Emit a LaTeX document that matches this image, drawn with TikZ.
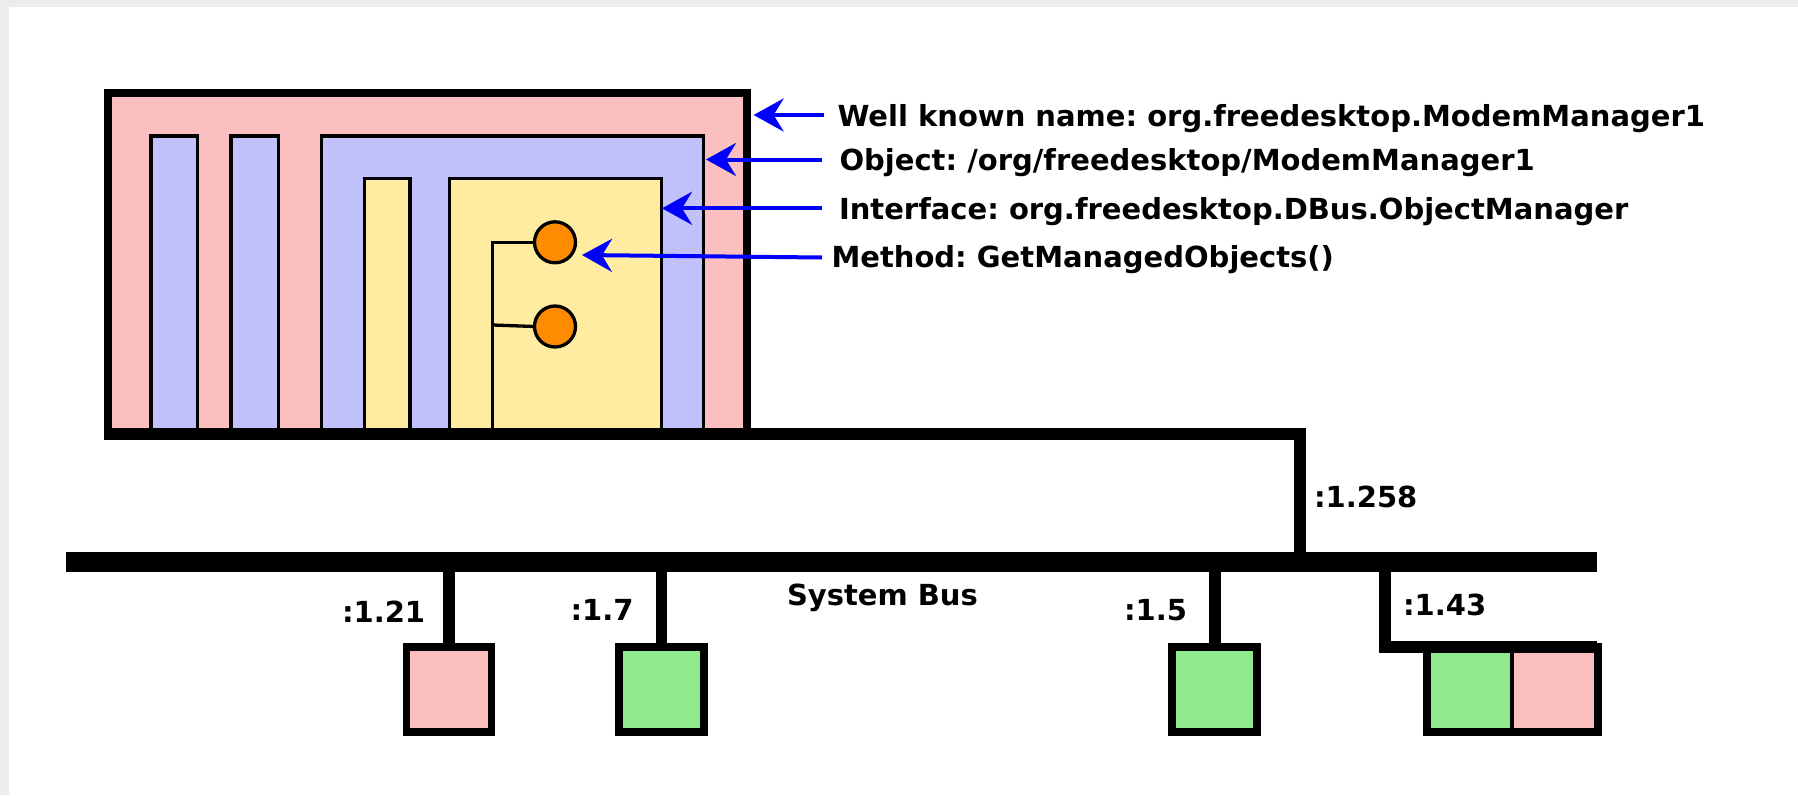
\documentclass[tikz,border=0pt]{standalone}
\usepackage{fontspec}
\setmainfont{DejaVu Sans}
\usetikzlibrary{arrows.meta}
\definecolor{pinkc}{RGB}{251,191,191}
\definecolor{lavc}{RGB}{193,193,251}
\definecolor{yelc}{RGB}{255,236,160}
\definecolor{grnc}{RGB}{145,233,141}
\definecolor{orgc}{RGB}{255,140,0}
\definecolor{bgc}{RGB}{236,236,236}
\begin{document}
\begin{tikzpicture}[x=1pt,y=-1pt,
  lbl/.style={font=\fontsize{29}{34}\selectfont\bfseries\frenchspacing, inner sep=0pt, outer sep=0pt, anchor=base west},
  thinbox/.style={draw=black, line width=3.3pt},
  pointer/.style={draw=blue, line width=4pt, -{Stealth[length=30pt,width=33pt,inset=10pt]}},
  wire/.style={draw=black, line width=12pt},
  busline/.style={draw=black, line width=20pt},
  peer/.style={draw=black, line width=7.7pt, inner sep=0pt, outer sep=0pt, minimum width=85pt, minimum height=85pt},
  methodc/.style={circle, draw=black, line width=3.3pt, fill=orgc, inner sep=0pt, outer sep=0pt, minimum size=41pt},
  ]
\useasboundingbox (0,0) rectangle (1798,795);
\fill[bgc] (0,0) rectangle (1798,795);
\fill[white] (9,7) rectangle (1798,795);

% ---- service (well known name) ----
\fill[pinkc] (108,93) rectangle (747,434);
\draw[thinbox, fill=lavc] (151,136) rectangle (197.7,434);
\draw[thinbox, fill=lavc] (231,136) rectangle (278.3,434);
\draw[thinbox, fill=lavc] (321.5,136) rectangle (703.6,434);
\draw[thinbox, fill=yelc] (364.4,178.4) rectangle (410,434);
\draw[thinbox, fill=yelc] (449.4,178.4) rectangle (661.6,434);
\draw[line width=8pt] (108,434) -- (108,93) -- (747,93) -- (747,434);

% methods
\node[methodc] (m1) at (555,242.3) {};
\node[methodc] (m2) at (555,326.5) {};
\coordinate (tb) at (492.7,434);
\coordinate (tj) at (492.7,325);
\draw[line width=3.3pt] (m1.west) -- (m1.west -| tb) -- (tb);
\draw[line width=3.3pt] (m2.west) -- (tj);

% ---- bus ----
\coordinate (busL) at (66,561.7);
\coordinate (busR) at (1597.3,561.7);
\coordinate (c258) at (1299.5,434);
\draw[wire] (104,434) -- (c258) -- (c258 |- busL);
\draw[busline] (busL) -- (busR);

% peers
\node[peer, fill=pinkc] (p21) at (449,689.7) {};
\node[peer, fill=grnc] (p7) at (661.4,689.7) {};
\node[peer, fill=grnc] (p5) at (1214.7,689.7) {};
\fill[grnc] (1427.2,647.2) rectangle (1512.2,732.2);
\fill[pinkc] (1512.2,647.2) rectangle (1597.8,732.2);
\draw[line width=4pt] (1512.2,647.2) -- (1512.2,732.2);
\node[peer, minimum width=170.6pt] (p43) at (1512.5,689.7) {};

\draw[line width=11.7pt] (p21.north |- busL) -- (p21.north);
\draw[line width=11.7pt] (p7.north |- busL) -- (p7.north);
\draw[line width=11.7pt] (p5.north |- busL) -- (p5.north);
\coordinate (c43) at (1385,647);
\draw[line width=12.4pt] (c43 |- busL) -- (c43) -- (1597.3,647);

% labels
\node[lbl] (n258) at (1314,507.7) {:1.258};
\node[lbl] (n21) at (342,622.3) {:1.21};
\node[lbl] (n7) at (570.5,620.7) {:1.7};
\node[lbl] (nbus) at (787,605.3) {System Bus};
\node[lbl] (n5) at (1124,620) {:1.5};
\node[lbl] (n43) at (1403,615) {:1.43};

\node[lbl] (t1) at (837.5,126) {Well known name: org.freedesktop.ModemManager1};
\node[lbl] (t2) at (839.5,170.5) {Object: /org/freedesktop/ModemManager1};
\node[lbl] (t3) at (839,219.3) {Interface: org.freedesktop.DBus.ObjectManager};
\node[lbl] (t4) at (831.5,267.3) {Method: GetManagedObjects()};

\coordinate (s1) at (824,115);
\coordinate (s2) at (822,159.5);
\coordinate (s3) at (822,208.3);
\coordinate (s4) at (822,257.5);
\coordinate (e1) at (753.6,115);
\coordinate (e2) at (706,159.5);
\coordinate (e3) at (662,208.3);
\coordinate (e4) at (582,255);
\draw[pointer] (s1) -- (e1);
\draw[pointer] (s2) -- (e2);
\draw[pointer] (s3) -- (e3);
\draw[pointer] (s4) -- (e4);
\end{tikzpicture}
\end{document}
